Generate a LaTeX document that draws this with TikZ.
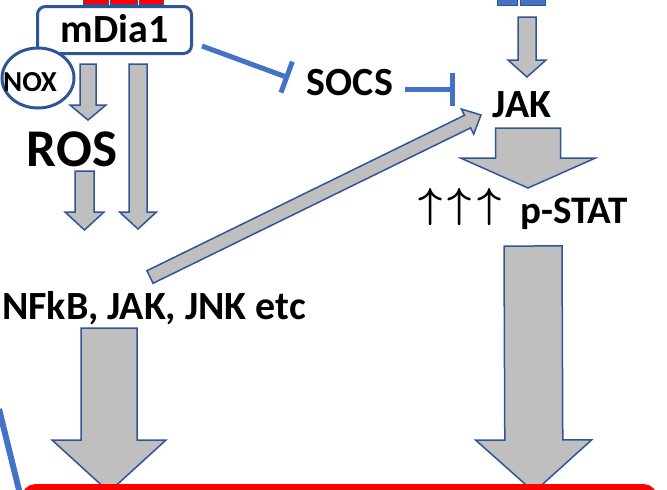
\RequirePackage{fix-cm}
\documentclass[tikz,border=0pt]{standalone}
\usepackage{fontspec}
\setmainfont{Carlito}
\usetikzlibrary{calc,arrows.meta,shapes.geometric}
\definecolor{boxblue}{HTML}{2F5597}
\definecolor{inhblue}{HTML}{4472C4}
\definecolor{arrgray}{HTML}{BFBFBF}

% block arrow: start, tip, half shaft, half head, head length
\newcommand{\blockarrow}[5]{
  \path (#1) coordinate (bs) (#2) coordinate (bt);
  \path ($(bt)!#5!(bs)$) coordinate (bh);
  \filldraw[blockarr] ($(bs)!#3!90:(bt)$) -- ($(bh)!#3!90:(bt)$) -- ($(bh)!#4!90:(bt)$) -- (bt)
    -- ($(bh)!#4!-90:(bt)$) -- ($(bh)!#3!-90:(bt)$) -- ($(bs)!#3!-90:(bt)$) -- cycle;
}

\begin{document}
\begin{tikzpicture}[x=1pt,y=-1pt,
  lbl/.style={font=\bfseries\fontsize{40}{44}\selectfont, inner sep=0pt, anchor=base},
  blockarr/.style={fill=arrgray, draw=boxblue, line width=1.5pt, line join=miter},
  inhib/.style={draw=inhblue, line width=5pt, -{Bar[width=33pt]}}]
  \useasboundingbox (0,0) rectangle (667,490);
  \clip (0,0) rectangle (667,490);

  % receptors at the top
  \foreach \a/\b in {83/108,110/137,139/163}
    \filldraw[fill=red, draw=boxblue, line width=1pt] (\a,-10) rectangle (\b,4);
  \foreach \a/\b in {497/517,520/545}
    \filldraw[fill=inhblue, draw=boxblue, line width=1pt] (\a,-10) rectangle (\b,5);
  \coordinate (rec) at (527,5);
  \coordinate (celltop) at (330,492);

  \node[draw=boxblue, fill=white, line width=3pt, rounded corners=8pt, minimum width=154pt,
    minimum height=47pt, inner sep=0pt, text height=24pt, text depth=0pt,
    font=\bfseries\fontsize{40}{44}\selectfont] (mdia) at (114.5,30) {mDia1};
  \node[ellipse, draw=boxblue, fill=white, line width=3pt, minimum width=72pt, minimum height=60pt,
    inner sep=0pt, text height=26pt, text depth=0pt,
    font=\bfseries\fontsize{29}{32}\selectfont] (nox) at (38,78) {\hspace*{-16pt}NOX};
  \node[lbl, font=\bfseries\fontsize{53}{58}\selectfont] (ros) at (72,166) {ROS};
  \node[lbl] (socs) at (350,95) {SOCS};
  \node[lbl] (jak) at (522,117) {JAK};
  \node[lbl] (nfkb) at (154,319) {NFkB, JAK, JNK etc};
  \node[lbl, font=\bfseries\fontsize{39}{43}\selectfont] (pstat) at (574,223) {p-STAT};
  \node[inner sep=0pt, anchor=base, font=\boldmath\fontsize{42}{46}\selectfont] (ups) at (460,217)
    {$\uparrow\hspace{5pt}\uparrow\hspace{5pt}\uparrow$};

  % gray arrows
  \blockarrow{$(mdia.south)+(-26.5,9)$}{$(ros.base)+(16,-46)$}{8pt}{18pt}{15pt}
  \blockarrow{$(mdia.south)+(23.5,9)$}{$(nfkb.base)+(-16,-90)$}{9pt}{18.5pt}{17pt}
  \blockarrow{$(ros.base)+(12.5,5)$}{$(nfkb.base)+(-69.5,-89)$}{9.5pt}{19.5pt}{18pt}
  \blockarrow{$(nfkb.base)+(-4,-42)$}{$(jak.base)+(-41,-2)$}{7pt}{14pt}{15pt}
  \blockarrow{$(rec)+(0,12)$}{$(jak.base)+(5,-40)$}{9pt}{19pt}{17pt}
  \blockarrow{$(jak.base)+(6,11)$}{$(pstat.base)+(-46,-35)$}{32.5pt}{67.5pt}{30pt}
  \blockarrow{$(nfkb.base)+(-45,9)$}{$(nfkb.base |- celltop)+(-45,0)$}{28pt}{57pt}{52pt}
  \blockarrow{$(pstat.base)+(-41,23)$}{$(pstat.base |- celltop)+(-40,0)$}{29pt}{58pt}{52pt}

  % inhibition
  \draw[inhib] ($(mdia.east)+(9,16)$) -- ($(socs.base)+(-61,-17)$);
  \draw[inhib] ($(socs.base)+(55,-6)$) -- ($(jak.base)+(-67,-28)$);

  % cell border below
  \draw[red, line width=6pt, rounded corners=12pt] (24,487) rectangle (655,560);
  \draw[inhblue, line width=6pt] (-1,409) -- (20,494);
\end{tikzpicture}
\end{document}
